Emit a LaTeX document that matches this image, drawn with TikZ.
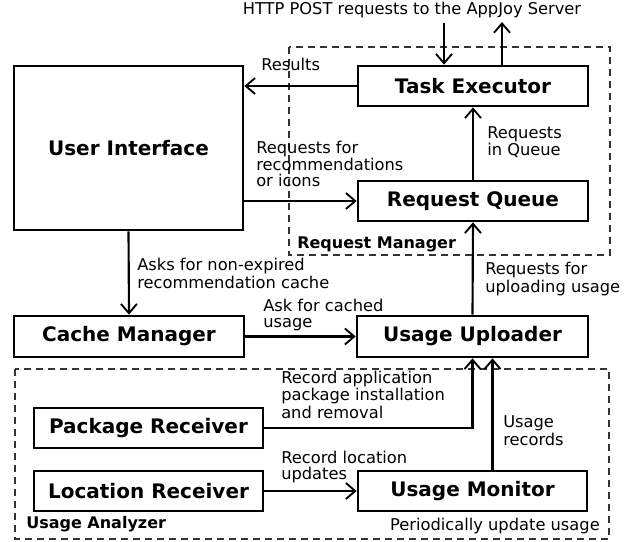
\documentclass[tikz,border=0pt]{standalone}
\usepackage{fontspec}
\setmainfont{DejaVu Sans}
\usetikzlibrary{arrows.meta,calc}
\begin{document}
\begin{tikzpicture}[x=0.75pt,y=-0.75pt,
  box/.style={draw,line width=2pt,inner sep=0pt,font=\fontsize{15}{15}\selectfont\bfseries},
  lbl/.style={inner sep=0pt,anchor=base west,align=left,font=\fontsize{12.2}{11.7}\selectfont},
  grp/.style={inner sep=0pt,anchor=base west,font=\fontsize{12}{12}\selectfont\bfseries},
  arr/.style={line width=1.6pt,-{Straight Barb[length=7pt,width=12pt,line width=1.4pt]}},
  zone/.style={draw=black!80,line width=1.3pt,dash pattern=on 5.5pt off 3.5pt}]
\useasboundingbox (0,0) rectangle (636,542);
% group frames
\draw[zone] (289,47) rectangle (610,255);
\draw[zone] (15,369) rectangle (609,539);
% boxes
\node[box,minimum width=229*0.75pt,minimum height=164*0.75pt] (ui) at (128.5,148) {User Interface};
\node[box,minimum width=230*0.75pt,minimum height=40*0.75pt] (te) at (473,86) {Task Executor};
\node[box,minimum width=230*0.75pt,minimum height=40*0.75pt] (rq) at (473,201) {Request Queue};
\node[box,minimum width=230*0.75pt,minimum height=41*0.75pt] (cm) at (129,336.5) {Cache Manager};
\node[box,minimum width=231*0.75pt,minimum height=41*0.75pt] (uu) at (472.5,336.5) {Usage Uploader};
\node[box,minimum width=229*0.75pt,minimum height=40*0.75pt] (pr) at (148.5,428) {Package Receiver};
\node[box,minimum width=229*0.75pt,minimum height=40*0.75pt] (lr) at (148.5,491) {Location Receiver};
\node[box,minimum width=229*0.75pt,minimum height=40*0.75pt] (um) at (472.5,491) {Usage Monitor};
% texts (multi-line labels are anchored at the baseline of their last line)
\node[inner sep=0pt,anchor=base,font=\fontsize{12.2}{12}\selectfont] (http) at (412,15) {HTTP POST requests to the AppJoy Server};
\node[lbl] (tres) at (261,71) {Results};
\node[lbl] (treq) at (256,186) {Requests for\\recommendations\\or icons};
\node[lbl] (tq) at (487,156) {Requests\\in Queue};
\node[grp] (trm) at (297,248) {Request Manager};
\node[lbl] (task) at (137,288) {Asks for non-expired\\recommendation cache};
\node[lbl] (tcache) at (263,327) {Ask for cached\\usage};
\node[lbl] (tup) at (485,292) {Requests for\\uploading usage};
\node[lbl] (tpkg) at (281,418) {Record application\\package installation\\and removal};
\node[lbl] (trec) at (503,445) {Usage\\records};
\node[lbl] (tloc) at (281,479) {Record location\\updates};
\node[grp] (tua) at (26,528) {Usage Analyzer};
\node[lbl,anchor=base east] (tper) at (600,530) {Periodically update usage};
% connector ends
\coordinate (inT) at (444,23);
\coordinate (outT) at (502,22);
% connectors
\draw[arr] (inT) -- (inT |- te.north);
\draw[arr] (outT |- te.north) -- (outT);
\draw[arr] (te.west) -- (te.west -| ui.east);
\draw[arr] (ui.east |- rq.west) -- (rq.west);
\draw[arr] (rq.north) -- (te.south);
\draw[arr] (ui.south) -- (cm.north);
\draw[arr] (cm.east) -- (uu.west);
\draw[arr] (uu.north) -- (rq.south);
\draw[arr] (pr.east) -| (uu.south);
\draw[arr] ($(um.north)+(20,0)$) -- ($(uu.south)+(20,0)$);
\draw[arr] (lr.east) -- (um.west);
\end{tikzpicture}
\end{document}
